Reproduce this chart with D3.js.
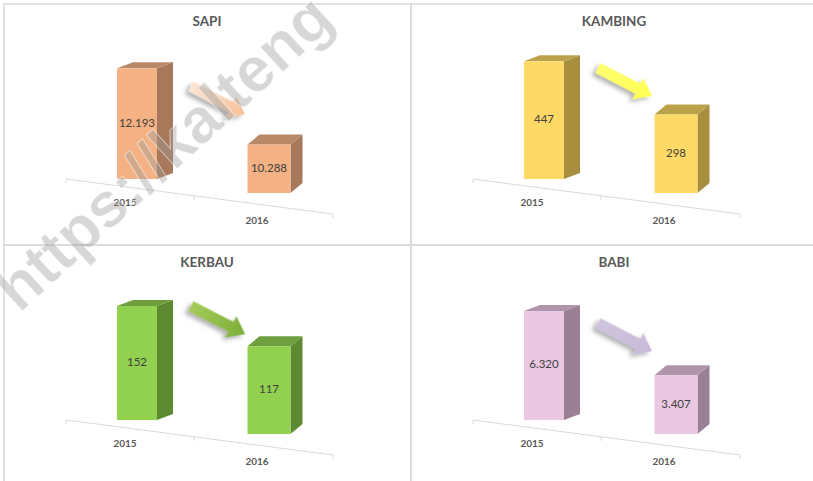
<!DOCTYPE html>
<html lang="id">
<head>
    <meta charset="UTF-8">
    <title>Populasi Ternak 2015 - 2016</title>
    <script src="https://d3js.org/d3.v7.min.js"></script>
    <style>
        body {
            margin: 0;
            background: #fff;
            font-family: Lato, "Open Sans", Arial, sans-serif;
        }
    </style>
</head>
<body>
<div id="chart"></div>

<script>
    // Data
    const animals = ["SAPI", "KAMBING", "KERBAU", "BABI"];
    const years = ["2015", "2016"];
    const values2015 = [12193, 447, 152, 6320];
    const values2016 = [10288, 298, 117, 3407];
    // value axis of each panel (not starting at zero for SAPI)
    const axisMin = [8800, 0, 0, 0];
    const axisMax = [13400, 570, 200, 8700];

    // Styles
    const palette = [
        {front: "#F4B183", side: "#A8785A", top: "#B98866", arrowA: "#FDE6D4", arrowB: "#F7C199"},
        {front: "#FFD966", side: "#A88F3E", top: "#BBA24A", arrowA: "#FFFF6E", arrowB: "#FFFF55"},
        {front: "#92D050", side: "#5D8A31", top: "#6E9E3E", arrowA: "#A3CB58", arrowB: "#7DAE38"},
        {front: "#EAC8E2", side: "#9B7F95", top: "#B094A9", arrowA: "#CFC4DE", arrowB: "#C7BAD8"}
    ];

    const width = 813;
    const height = 481;
    const panelW = 407;
    const panelH = 241;

    const svg = d3.select("#chart").append("svg")
        .attr("width", width)
        .attr("height", height);

    const defs = svg.append("defs");
    const shadow = defs.append("filter").attr("id", "shadow")
        .attr("x", "-30%").attr("y", "-30%").attr("width", "160%").attr("height", "180%");
    shadow.append("feDropShadow")
        .attr("dx", -2).attr("dy", 4).attr("stdDeviation", 2.2)
        .attr("flood-color", "#555").attr("flood-opacity", 0.45);

    const fmt = d3.formatLocale({decimal: ",", thousands: ".", grouping: [3], currency: ["Rp", ""]}).format(",d");

    // positions inside one panel (perspective floor)
    const x = d3.scalePoint().domain(years).range([133, 265]);
    const floorY = d3.scaleLinear().domain([133, 265]).range([175, 189]);
    const barW = d3.scaleLinear().domain([133, 265]).range([40, 43]);
    const depthX = d3.scaleLinear().domain([133, 265]).range([16, 12]);
    const depthY = d3.scaleLinear().domain([133, 265]).range([-6, -10]);
    const baseY = d3.scaleLinear().domain([62, 329]).range([175, 210]);

    animals.forEach((name, i) => {
        const col = i % 2, row = Math.floor(i / 2);
        const g = svg.append("g")
            .attr("transform", `translate(${4 + col * panelW},${4 + row * panelH})`);
        const c = palette[i];

        // panel frame
        g.append("rect")
            .attr("width", panelW + (col === 1 ? 20 : 0))
            .attr("height", panelH + (row === 1 ? 20 : 0))
            .attr("fill", "none")
            .attr("stroke", "#D9D9D9")
            .attr("stroke-width", 1.5);

        // title
        g.append("text")
            .attr("x", 203)
            .attr("y", 19)
            .attr("text-anchor", "middle")
            .attr("dominant-baseline", "middle")
            .attr("font-size", 13.5)
            .attr("font-weight", "bold")
            .attr("fill", "#595959")
            .text(name);

        // floor axis line with ticks
        g.append("line")
            .attr("x1", 62).attr("y1", baseY(62))
            .attr("x2", 329).attr("y2", baseY(329))
            .attr("stroke", "#D9D9D9").attr("stroke-width", 1);
        [62, 190, 329].forEach(t => {
            g.append("line")
                .attr("x1", t).attr("y1", baseY(t))
                .attr("x2", t).attr("y2", baseY(t) + 4)
                .attr("stroke", "#D9D9D9");
        });

        years.forEach(yr => {
            const lx = x(yr) - 12;
            g.append("text")
                .attr("x", lx)
                .attr("y", baseY(lx) + 17)
                .attr("text-anchor", "middle")
                .attr("dominant-baseline", "middle")
                .attr("font-size", 10)
                .attr("font-weight", "bold")
                .attr("fill", "#595959")
                .text(yr);
        });

        const h = d3.scaleLinear().domain([axisMin[i], axisMax[i]]).range([0, 150]);
        const bars = [
            {year: "2015", value: values2015[i]},
            {year: "2016", value: values2016[i]}
        ];

        const tops = [];
        bars.forEach(b => {
            const cx = x(b.year);
            const bottom = floorY(cx);
            const w = barW(cx);
            const bh = h(b.value);
            const dx = depthX(cx), dy = depthY(cx);
            const l = cx - w / 2, r = cx + w / 2, t = bottom - bh;
            tops.push(t);

            g.append("polygon")
                .attr("points", [[r, bottom], [r, t], [r + dx, t + dy], [r + dx, bottom + dy]].join(" "))
                .attr("fill", c.side);
            g.append("polygon")
                .attr("points", [[l, t], [r, t], [r + dx, t + dy], [l + dx, t + dy]].join(" "))
                .attr("fill", c.top);
            g.append("rect")
                .attr("x", l).attr("y", t)
                .attr("width", w).attr("height", bh)
                .attr("fill", c.front);

            g.append("text")
                .attr("x", cx)
                .attr("y", t + bh / 2)
                .attr("text-anchor", "middle")
                .attr("dominant-baseline", "middle")
                .attr("font-size", 11.5)
                .attr("fill", "#404040")
                .text(fmt(b.value));
        });

        // trend arrow between the two bars
        const gradId = "grad" + i;
        const grad = defs.append("linearGradient").attr("id", gradId);
        grad.append("stop").attr("offset", "0%").attr("stop-color", c.arrowA);
        grad.append("stop").attr("offset", "100%").attr("stop-color", c.arrowB);

        const midY = (tops[0] + tops[1]) / 2 - 6;
        const L = 61, sw = 5.5, hw = 12, hl = 16;
        const angle = Math.atan2(28, 54) * 180 / Math.PI;
        g.append("polygon")
            .attr("transform", `translate(214,${midY}) rotate(${angle})`)
            .attr("points", [[-L / 2, -sw], [L / 2 - hl, -sw], [L / 2 - hl, -hw], [L / 2, 0],
                [L / 2 - hl, hw], [L / 2 - hl, sw], [-L / 2, sw]].join(" "))
            .attr("fill", `url(#${gradId})`)
            .attr("filter", "url(#shadow)");
    });

    // watermark
    svg.append("text")
        .attr("transform", "translate(163,152) rotate(-42.5)")
        .attr("text-anchor", "middle")
        .attr("dominant-baseline", "central")
        .attr("font-family", "'Liberation Sans', Arial, sans-serif")
        .attr("font-size", 63)
        .attr("font-weight", "bold")
        .attr("fill", "#9a9a9a")
        .attr("fill-opacity", 0.4)
        .attr("stroke", "#fff")
        .attr("stroke-opacity", 0.5)
        .attr("stroke-width", 1)
        .text("https://kalteng");
</script>
</body>
</html>
